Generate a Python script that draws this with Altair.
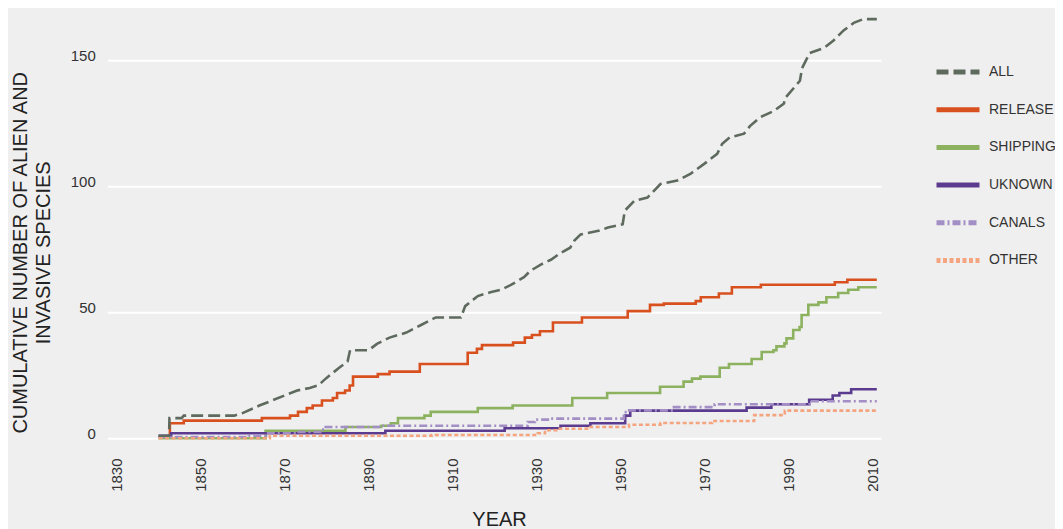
import altair as alt
import pandas as pd

SERIES = ["ALL", "RELEASE", "SHIPPING", "UKNOWN", "CANALS", "OTHER"]
LINE_COLORS = ["#5f6a5f", "#d9501f", "#8cb260", "#5b3b8f", "#a38fc6", "#f4a47f"]
DASHES = [[12, 5], [1, 0], [1, 0], [1, 0], [8, 3, 2, 3], [4, 2.5]]

X_TICKS = [1830, 1850, 1870, 1890, 1910, 1930, 1950, 1970, 1990, 2010]
Y_TICKS = [0, 50, 100, 150]

ALL_YEARS = [1840, 1842.5, 1842.6, 1845.5, 1846, 1858, 1860, 1864, 1867, 1870, 1873, 1876,
             1878, 1880, 1883, 1885, 1885.6, 1890, 1892, 1895, 1899, 1902.5, 1906, 1912,
             1913, 1916, 1919, 1921.5, 1924, 1927, 1928.5, 1931, 1933.5, 1935.8, 1938,
             1939, 1940.5, 1945, 1947, 1950.5, 1951, 1953.3, 1956.4, 1959.5, 1963.5,
             1966.6, 1969.9, 1973, 1974.2, 1976, 1979.4, 1980.8, 1983.2, 1986.5, 1988.9,
             1989.1, 1992.7, 1993.2, 1995, 1998.4, 2000.7, 2003.1, 2005.5, 2007.8, 2011]
ALL_VALUES = [1, 1, 8, 8, 9, 9, 10, 13, 15, 17, 19, 20,
              21, 24, 28, 30.5, 35, 35, 37.5, 40, 42, 45, 48, 48,
              52.5, 56.5, 58, 59, 61, 64, 66.5, 69, 71, 73.7, 75.7,
              78.5, 81, 82.5, 83.7, 85, 90.4, 94.4, 95.6, 101, 102.4,
              105, 109, 113, 117, 119.5, 121, 124, 127.5, 130, 133,
              135, 142, 147, 153, 155, 158, 162, 165, 166.5, 166.5]

RELEASE_YEARS = [1840, 1842.7, 1846, 1864.6, 1871.3, 1873.2, 1875.3, 1876.7, 1878.9, 1881.5,
                 1882.5, 1884.4, 1885.5, 1886.3, 1892.2, 1895, 1902.2, 1913.6, 1915.8, 1917,
                 1924.4, 1927.2, 1928.9, 1930.8, 1933.9, 1940.8, 1951.7, 1957, 1960.3, 1967.9,
                 1969.1, 1973.4, 1976.5, 1983.4, 2001, 2004, 2011]
RELEASE_VALUES = [0.5, 6, 7, 8, 9, 10.5, 12, 13, 15, 16,
                  18, 19, 21, 24.5, 25.5, 26.5, 29.5, 34, 35.5, 37,
                  38, 40, 41, 42.5, 46, 48, 50.5, 53, 53.5, 54.5,
                  56, 57.5, 60, 61, 62, 63, 63]

SHIPPING_YEARS = [1840, 1865.5, 1884.5, 1893, 1895.3, 1897, 1903.3, 1904.8, 1916, 1924.3,
                  1938.5, 1946.8, 1959.4, 1965, 1967, 1969, 1973.6, 1975.8, 1981.2, 1983.6,
                  1986.4, 1987.1, 1989, 1989.5, 1991.1, 1992.6, 1993.1, 1994.7, 1997.1, 1999,
                  2001.8, 2004.2, 2006.6, 2011]
SHIPPING_VALUES = [0, 3, 4.5, 5, 6, 8, 9, 10.5, 12, 13,
                   16, 18, 20.5, 22.5, 23.7, 24.5, 28, 29.5, 31.5, 34.3,
                   35, 36.5, 37.7, 39.7, 43, 44.2, 49, 53, 54, 56,
                   57.7, 59, 60, 60]

UNKNOWN_YEARS = [1840, 1843, 1894, 1922.4, 1935.7, 1942.8, 1951.1, 1952.3, 1980, 1985.9,
                 1994.9, 2000.5, 2002.1, 2004.9, 2011]
UNKNOWN_VALUES = [1, 2, 3, 4, 5, 6, 9, 11, 12.2, 13.5,
                  15.3, 17, 18, 19.5, 19.5]

CANALS_YEARS = [1840, 1861.5, 1865.6, 1872.7, 1878.9, 1879.8, 1893, 1927.9, 1929.6, 1933.3,
                1950.8, 1951.5, 1962.7, 1972.4, 1995, 2011]
CANALS_VALUES = [0.5, 1, 2, 2.5, 3.5, 4.5, 5, 6.5, 7.4, 7.8,
                 10.4, 11.1, 12.4, 13.5, 14.7, 14.7]

OTHER_YEARS = [1840, 1866.5, 1905, 1930.3, 1932, 1935, 1942, 1952, 1959.5, 1971.8,
               1981.8, 1989.1, 2011]
OTHER_VALUES = [0, 1, 1.3, 2, 3.2, 3.8, 4.5, 5.4, 6.1, 6.9,
                9.2, 11, 11]

rows = []
for name, yrs, vals in [
    ("ALL", ALL_YEARS, ALL_VALUES),
    ("RELEASE", RELEASE_YEARS, RELEASE_VALUES),
    ("SHIPPING", SHIPPING_YEARS, SHIPPING_VALUES),
    ("UKNOWN", UNKNOWN_YEARS, UNKNOWN_VALUES),
    ("CANALS", CANALS_YEARS, CANALS_VALUES),
    ("OTHER", OTHER_YEARS, OTHER_VALUES),
]:
    for y, v in zip(yrs, vals):
        rows.append({"series": name, "year": y, "value": v})
df = pd.DataFrame(rows)

FONT = "Liberation Sans"

legend = alt.Legend(
    title=None, orient="none", legendX=826.7, legendY=54.2,
    symbolType="stroke", symbolSize=1849, symbolStrokeWidth=5,
    labelFont=FONT, labelFontSize=14, labelColor="#333333",
    clipHeight=15, rowPadding=22.7, labelOffset=7, padding=0,
)

x_enc = alt.X(
    "year:Q",
    scale=alt.Scale(domain=[1827.8, 2012], nice=False, zero=False),
    axis=alt.Axis(
        values=X_TICKS, format="d", title="YEAR", labelAngle=270, grid=False,
        labelAlign="right", labelBaseline="middle", labelPadding=19.7,
        titleX=391.7, titleY=81, titleBaseline="middle", titleAlign="center",
        titleFontSize=20, titleFontWeight="normal",
    ),
)
y_enc = alt.Y(
    "value:Q",
    scale=alt.Scale(domain=[0, 170], nice=False),
    axis=alt.Axis(
        values=Y_TICKS, title=["CUMULATIVE  NUMBER OF ALIEN AND", "INVASIVE SPECIES"],
        labelPadding=12, labelBaseline="alphabetic", grid=True,
        titleAngle=270, titleX=-97, titleY=242, titleAlign="center",
        titleBaseline="top", titleLineHeight=23, titleFontSize=20, titleFontWeight="normal",
    ),
)
color_enc = alt.Color("series:N", scale=alt.Scale(domain=SERIES, range=LINE_COLORS),
                      sort=SERIES, legend=legend)
dash_enc = alt.StrokeDash("series:N", scale=alt.Scale(domain=SERIES, range=DASHES),
                          sort=SERIES, legend=legend)

base = alt.Chart(df).encode(x=x_enc, y=y_enc, color=color_enc,
                            strokeDash=dash_enc, order=alt.Order("year:Q"))

others = base.transform_filter(alt.datum.series != "ALL").mark_line(
    interpolate="step-after", strokeWidth=2.6)
all_line = base.transform_filter(alt.datum.series == "ALL").mark_line(
    interpolate="linear", strokeWidth=2.6)

chart = alt.layer(others, all_line).properties(
    width=773.7, height=428,
    padding={"left": 99.3, "top": 2.3, "right": 174, "bottom": 100},
    autosize=alt.AutoSizeParams(type="none"),
    background="#efefef",
).configure_view(stroke=None, fill="#efefef").configure_axis(
    gridColor="#ffffff", gridWidth=2, domain=False, ticks=False, tickSize=0,
    labelFont=FONT, labelFontSize=15, labelColor="#333333",
    titleFont=FONT, titleColor="#222222",
)

chart.save("out.html", embed_options={"renderer": "svg", "actions": False})
